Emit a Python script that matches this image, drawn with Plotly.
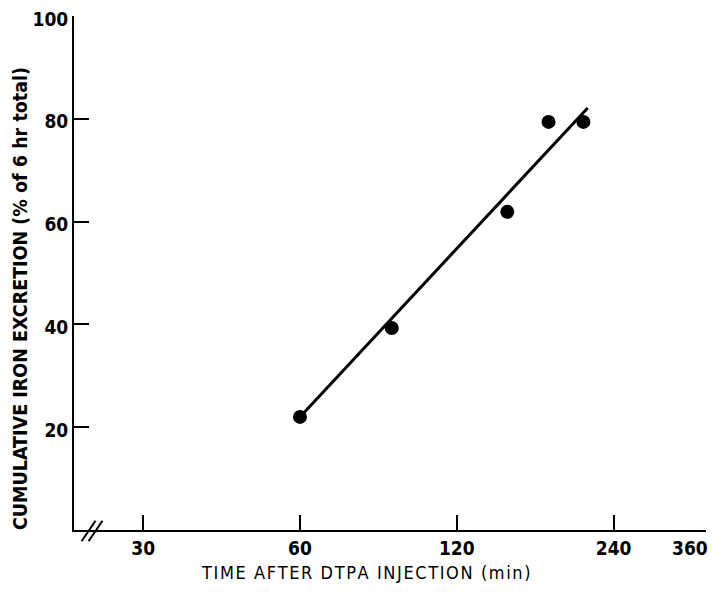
import plotly.graph_objects as go
import numpy as np

# Data
time_min = [60, 90, 150, 180, 210]
cum_excretion = [22.0, 39.3, 61.9, 79.4, 79.4]
fit_x = [60, 214]
fit_y = [22.0, 82.1]

x_ticks = [30, 60, 120, 240, 360]
x_ticklabels = ["30", "60", "120", "240", ""]   # last label drawn right-aligned below
last_x_label = "360"
y_ticks = [20, 40, 60, 80, 100]
y_ticklabels = ["20", "40", "60", "80", "100"]

# page body has an 8px margin; figure sized to fit inside the 718x592 window
W, H = 702, 576
L, R, T, B = 66, 4, 8, 54
PW, PH = W - L - R, H - T - B

fig = go.Figure()
fig.add_trace(go.Scatter(x=fit_x, y=fit_y, mode="lines",
                         line=dict(color="black", width=3), showlegend=False))
fig.add_trace(go.Scatter(x=time_min, y=cum_excretion, mode="markers",
                         marker=dict(color="black", size=14), showlegend=False))

FONT = "DejaVu Sans Condensed, sans-serif"
tickfont = dict(family=FONT, size=19, color="black", weight="bold")

fig.update_layout(
    width=W, height=H,
    margin=dict(l=L, r=R, t=T, b=B, autoexpand=False),
    paper_bgcolor="white", plot_bgcolor="white",
    xaxis=dict(type="log", range=[np.log10(22.1), np.log10(361)],
               tickvals=x_ticks, ticktext=x_ticklabels,
               ticks="inside", ticklen=15, tickwidth=2, tickcolor="black",
               showline=True, linecolor="black", linewidth=2,
               showgrid=False, zeroline=False, automargin=False,
               ticklabeloverflow="allow", tickfont=tickfont),
    yaxis=dict(range=[0, 100],
               tickvals=y_ticks, ticktext=y_ticklabels,
               ticks="inside", ticklen=15, tickwidth=2, tickcolor="black",
               showline=True, linecolor="black", linewidth=2,
               showgrid=False, zeroline=False, automargin=False,
               ticklabelshift=3,
               ticklabeloverflow="allow", tickfont=tickfont),
)

fig.add_annotation(text=last_x_label, xref="x", yref="paper",
                   x=np.log10(x_ticks[-1]), y=-(540 - (H - B)) / PH,
                   xanchor="right", yanchor="middle", xshift=5, showarrow=False,
                   font=tickfont)

xtitle = "\u200a".join("TIME AFTER DTPA INJECTION (min)")
fig.add_annotation(text=xtitle,
                   xref="paper", yref="paper",
                   x=(358 - L) / PW, y=-(564 - (H - B)) / PH,
                   xanchor="center", yanchor="middle", showarrow=False,
                   font=dict(family=FONT, size=18, color="black"))
fig.add_annotation(text="<b>CUMULATIVE IRON EXCRETION (% of 6 hr total)</b>", xref="paper", yref="paper",
                   x=-(L - 12) / PW, y=((H - B) - 291) / PH,
                   xanchor="center", yanchor="middle", showarrow=False, textangle=-90,
                   font=dict(family=FONT, size=19.5, color="black"))

# axis break marks "//"
for dx in (0.0, 0.011):
    fig.add_shape(type="line", xref="paper", yref="paper",
                  x0=0.012 + dx, y0=-0.022, x1=0.034 + dx, y1=0.018,
                  line=dict(color="black", width=2))

fig.write_html("out.html")
